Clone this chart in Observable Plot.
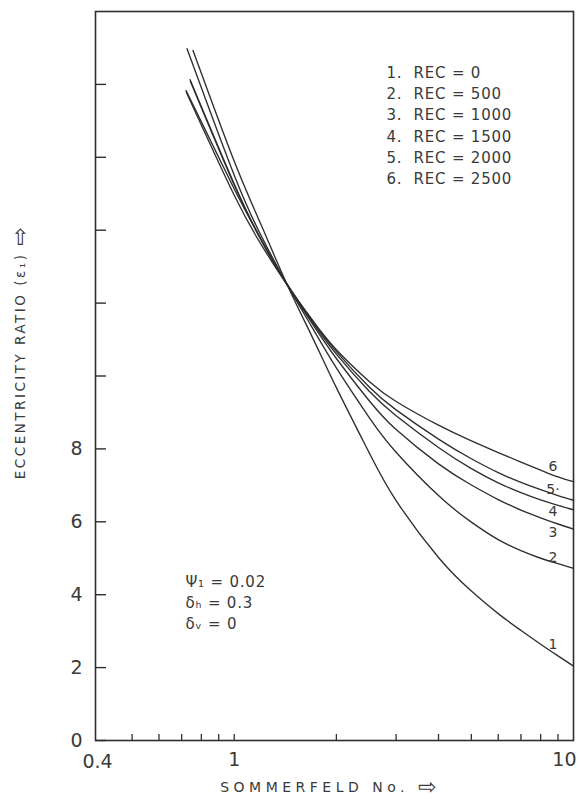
<!DOCTYPE html>
<html><head><meta charset="utf-8">
<script src="https://cdn.jsdelivr.net/npm/d3@7"></script>
<script src="https://cdn.jsdelivr.net/npm/@observablehq/plot@0.6"></script>
<style>
html,body{margin:0;padding:0;background:#fff;}
#chart{width:578px;height:802px;}
</style></head><body><div id="chart"></div>
<script>
// ---- data ----
const recValues = [0, 500, 1000, 1500, 2000, 2500];
const curveLabels = ["1", "2", "3", "4", "5·", "6"];
const legendLines = ["1.  REC = 0", "2.  REC = 500", "3.  REC = 1000", "4.  REC = 1500", "5.  REC = 2000", "6.  REC = 2500"];
const paramLines = ["Ψ₁ = 0.02", "δₕ = 0.3", "δᵥ = 0"];
const xLabel = "SOMMERFELD No. ⇨";
const yLabel = "ECCENTRICITY RATIO (ε₁) ⇨";

const xDomain = [0.39, 10];
const yDomain = [0, 20];
const yTicks = [0, 2, 4, 6, 8, 10, 12, 14, 16, 18];
const yTickLabels = [0, 2, 4, 6, 8];
const xMinorTicks = [0.5, 0.6, 0.7, 0.8, 0.9, 1, 2, 3, 4, 5, 6, 7, 8, 9];
const xTickLabelLow = "0.4";
const xTickLabelsMid = [1];
const xTickLabelsRight = [10];

// first point of each curve (Sommerfeld No., eccentricity ratio)
const startX = [0.756, 0.726, 0.741, 0.743, 0.721, 0.723];
const startY = [18.93, 18.98, 18.13, 18.08, 17.83, 17.78];
// remaining points, common Sommerfeld numbers
const sommerfeldNo = [1.0, 1.2, 1.42, 1.7, 2.0, 2.5, 3, 4, 5, 6, 7, 8, 9, 10];
const ecc1 = [15.89, 14.15, 12.58, 11.06, 9.68, 7.89, 6.58, 5.02, 4.10, 3.48, 3.02, 2.64, 2.32, 2.04];
const ecc2 = [15.51, 13.85, 12.57, 11.32, 10.22, 8.86, 7.91, 6.72, 5.99, 5.51, 5.21, 5.00, 4.85, 4.72];
const ecc3 = [15.27, 13.73, 12.56, 11.43, 10.48, 9.32, 8.53, 7.59, 7.01, 6.61, 6.32, 6.11, 5.94, 5.80];
const ecc4 = [15.24, 13.74, 12.57, 11.48, 10.60, 9.58, 8.91, 8.04, 7.46, 7.07, 6.80, 6.60, 6.45, 6.33];
const ecc5 = [15.13, 13.74, 12.57, 11.52, 10.67, 9.70, 9.07, 8.27, 7.73, 7.35, 7.08, 6.88, 6.72, 6.59];
const ecc6 = [14.96, 13.61, 12.55, 11.53, 10.72, 9.85, 9.30, 8.65, 8.22, 7.90, 7.64, 7.42, 7.23, 7.10];

const curves = [ecc1, ecc2, ecc3, ecc4, ecc5, ecc6];
const rows = [];
curves.forEach((ys, i) => {
  rows.push({rec: recValues[i], s: startX[i], e: startY[i]});
  sommerfeldNo.forEach((s, j) => rows.push({rec: recValues[i], s, e: ys[j]}));
});

// ---- styles ----
const ink = "#2e2e2e";
const textInk = "#3a3a3a";
const labelDy = [-11, -6, 9, 6, -6, -10];

const labelMarks = curves.map((ys, i) => Plot.text(
  [{s: sommerfeldNo[12], e: ys[12], t: curveLabels[i]}],
  {x: "s", y: "e", text: "t", dx: -5, dy: labelDy[i], fontSize: 14, fill: textInk}
));

const chart = Plot.plot({
  width: 578,
  height: 802,
  marginTop: 11,
  marginBottom: 62,
  marginLeft: 95,
  marginRight: 5,
  style: {fontFamily: "DejaVu Sans", background: "#ffffff", color: textInk},
  x: {type: "log", domain: xDomain},
  y: {domain: yDomain},
  marks: [
    Plot.frame({stroke: ink, strokeWidth: 1.6}),
    Plot.axisY(yTicks, {tickSize: -11, tickFormat: () => "", label: null, stroke: ink, strokeWidth: 1.4}),
    Plot.axisY(yTickLabels, {tickSize: 0, tickPadding: 13, fontSize: 19, label: null, fill: textInk}),
    Plot.axisX(xMinorTicks, {tickSize: -6, tickFormat: () => "", label: null, stroke: ink, strokeWidth: 1.3}),
    Plot.axisX(xTickLabelsMid, {tickSize: 0, tickPadding: 12, fontSize: 19, label: null, fill: textInk, tickFormat: d => String(d)}),
    Plot.axisX(xTickLabelsRight, {tickSize: 0, tickPadding: 12, fontSize: 19, label: null, fill: textInk, textAnchor: "end", dx: 3, tickFormat: d => String(d)}),
    Plot.text([xTickLabelLow], {frameAnchor: "bottom-left", textAnchor: "middle", lineAnchor: "middle", dx: 2, dy: 21, fontSize: 19, fill: textInk}),
    Plot.line(rows, {x: "s", y: "e", z: "rec", curve: "natural", stroke: ink, strokeWidth: 1.35}),
    ...labelMarks,
    Plot.text([legendLines.join("\n")], {frameAnchor: "top-left", textAnchor: "start", lineAnchor: "top", lineHeight: 1.42, dx: 291, dy: 51, fontSize: 15, fill: textInk}),
    Plot.text([paramLines.join("\n")], {frameAnchor: "top-left", textAnchor: "start", lineAnchor: "top", lineHeight: 1.42, dx: 90, dy: 560, fontSize: 15, fill: textInk}),
    Plot.text([xLabel], {frameAnchor: "bottom", textAnchor: "middle", lineAnchor: "middle", dx: -4, dy: 47, fontSize: 14, fill: textInk}),
    Plot.text([yLabel], {frameAnchor: "left", textAnchor: "middle", lineAnchor: "middle", rotate: -90, dx: -75, dy: -24, fontSize: 13.5, fill: textInk})
  ]
});

const svg = d3.select(chart);
// spaced capitals and a larger hollow arrow for the axis titles
function styleAxisTitle(label, spacing) {
  svg.selectAll("text")
    .filter(function () { return this.textContent === label; })
    .each(function () {
      const t = d3.select(this);
      const main = label.slice(0, -1);
      const arrow = label.slice(-1);
      t.text(null).style("letter-spacing", spacing);
      t.append("tspan").text(main);
      t.append("tspan").attr("font-size", 22).attr("dy", "0.08em").text(arrow);
    });
}
styleAxisTitle(xLabel, "4.5px");
styleAxisTitle(yLabel, "2.5px");
svg.selectAll("text")
  .filter(function () { return this.textContent === legendLines.join("") || this.textContent === paramLines.join(""); })
  .style("letter-spacing", "0.8px");

document.getElementById("chart").appendChild(chart);
</script>
</body></html>
